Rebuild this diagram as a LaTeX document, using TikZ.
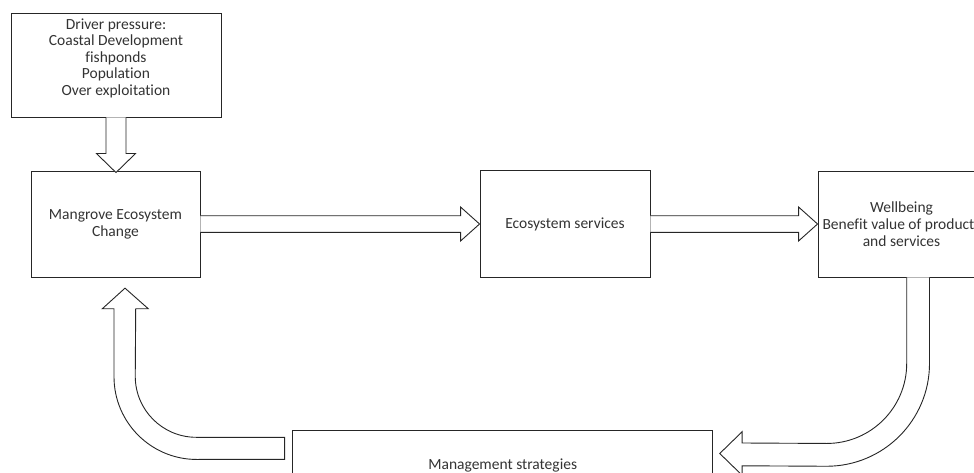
\documentclass[tikz,border=0pt]{standalone}
\usepackage{fontspec}
\setmainfont{Carlito}[Ligatures={NoCommon}]
\usetikzlibrary{calc}
\begin{document}
\begin{tikzpicture}[x=1pt,y=-1pt,
  box/.style={draw=black!85, line width=0.9pt, inner sep=0pt, align=center,
    text=black!80, font=\fontsize{15.5}{17}\selectfont},
  txt/.style={inner sep=0pt, align=center, text=black!80, font=\fontsize{15.5}{16.5}\selectfont},
  arr/.style={draw=black!85, line width=0.9pt, fill=white, line join=miter}]
\useasboundingbox (0,0) rectangle (974,473);
\clip (0,0) rectangle (974,473);
% boxes
\node[box, minimum width=210pt, minimum height=104pt] (driver) at (116,65) {};
\node[txt] (drivertxt) at (116,58) {Driver pressure:\\Coastal Development\\fishponds\\Population\\Over exploitation};
\node[box, minimum width=169pt, minimum height=106pt] (mangrove) at (115.5,224) {Mangrove Ecosystem\\Change};
\node[box, minimum width=170pt, minimum height=106.6pt] (eco) at (565,224) {Ecosystem services};
\node[box, minimum width=167pt, minimum height=106pt] (well) at (901.5,224) {Wellbeing\\Benefit value of products\\and services};
\node[box, minimum width=420pt, minimum height=68.6pt] (mgmt) at (502.7,465) {Management strategies};
% down arrow: driver -> mangrove
\coordinate (d1) at (driver.south);
\coordinate (d2) at (driver.south |- mangrove.north);
\draw[arr] ($(d1)+(-10,0)$) -- ($(d2)+(-10,-17)$) -- ($(d2)+(-19.5,-17)$) -- ($(d2)+(0,2)$)
  -- ($(d2)+(19.5,-17)$) -- ($(d2)+(10,-17)$) -- ($(d1)+(10,0)$);
% mangrove -> eco
\coordinate (m1) at (mangrove.east);
\coordinate (e1) at (eco.west);
\draw[arr] ($(m1)+(0,-8.3)$) -- ($(e1)+(-19,-8.3)$) -- ($(e1)+(-19,-17)$) -- (e1)
  -- ($(e1)+(-19,17)$) -- ($(e1)+(-19,8.3)$) -- ($(m1)+(0,8.3)$);
% eco -> well
\coordinate (e2) at (eco.east);
\coordinate (w0) at (well.west);
\draw[arr] ($(e2)+(0,-8.3)$) -- ($(w0)+(-19,-8.3)$) -- ($(w0)+(-19,-17)$) -- (w0)
  -- ($(w0)+(-19,17)$) -- ($(w0)+(-19,8.3)$) -- ($(e2)+(0,8.3)$);
% well -> mgmt (curved)
\coordinate (w1) at ($(well.south)+(5.2,0)$);
\coordinate (t1) at ($(mgmt.east)+(6.6,-11.5)$);
\draw[arr] (w1) -- ($(w1)+(0,86)$) arc[start angle=0, end angle=90, radius=80]
  -- ($(t1)+(22.4,-10.5)$) -- ($(t1)+(22.4,-21.8)$) -- (t1) -- ($(t1)+(22.4,21.8)$)
  -- ($(t1)+(22.4,12.3)$) -- ($(w1)+(-80,188.8)$) arc[start angle=90, end angle=0, radius=102.8]
  -- ($(w1)+(22.8,0)$);
% mgmt -> mangrove (curved)
\coordinate (g1) at ($(mgmt.west)+(-7.7,-27.7)$);
\coordinate (t2) at ($(mangrove.south)+(9.5,10.7)$);
\draw[arr] (g1) -- ($(g1)+(-88.3,0)$) arc[start angle=90, end angle=180, radius=61]
  -- ($(t2)+(10.7,20.6)$) -- ($(t2)+(23.3,20.6)$) -- (t2) -- ($(t2)+(-22.7,20.6)$)
  -- ($(t2)+(-11,20.6)$) -- ($(t2)+(-11,88.6)$) arc[start angle=180, end angle=90, radius=82.7]
  -- ($(g1)+(0,22)$) -- cycle;
\end{tikzpicture}
\end{document}
